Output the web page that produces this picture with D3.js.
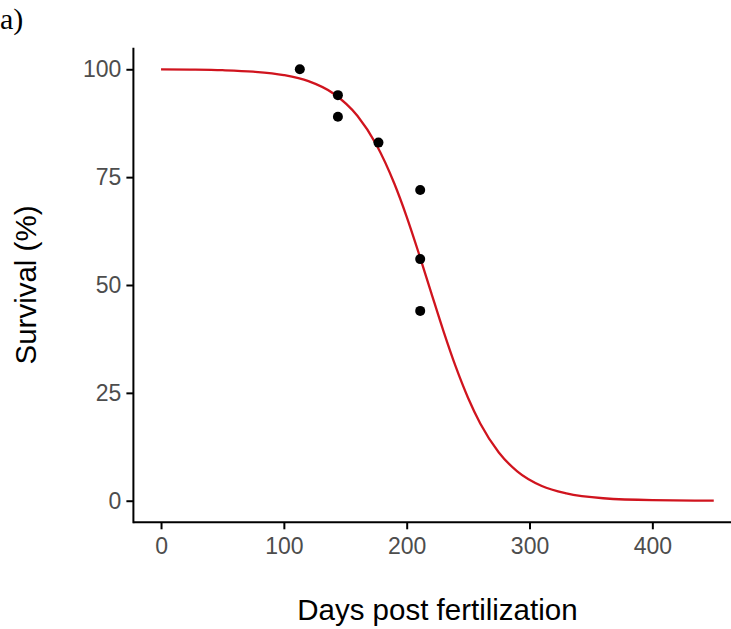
<!DOCTYPE html>
<html>
<head>
<meta charset="utf-8">
<script src="https://cdn.jsdelivr.net/npm/d3@7"></script>
<style>
  html, body { margin: 0; padding: 0; background: #ffffff; }
  svg { display: block; }
</style>
</head>
<body>
<script>
// Observed data points (days post fertilization, survival %)
const obsDays = [113, 144, 144, 177, 211, 211, 211];
const obsSurvival = [100, 94, 89, 83, 72, 56, 44];

// Fitted curve, values
const curveDays = [0, 25, 50, 75, 100, 120, 140, 160, 175, 190, 200, 210, 220, 230, 240, 250, 260, 275, 290, 310, 330, 360, 400, 450];
const curveSurvival = [99.96, 99.91, 99.78, 99.45, 98.65, 97.25, 94.45, 89.18, 82.69, 73.46, 65.81, 57.22, 48.18, 39.26, 31.0, 23.81, 17.84, 11.18, 6.80, 3.40, 1.68, 0.57, 0.13, 0.02];

const xTicks = [0, 100, 200, 300, 400];
const yTicks = [0, 25, 50, 75, 100];

const W = 731, H = 629;
const svg = d3.select("body").append("svg").attr("width", W).attr("height", H);

const x = d3.scaleLinear().domain([-22.5, 472.5]).range([133.4, 741.4]);
const y = d3.scaleLinear().domain([-5, 105]).range([522.3, 47.7]);

// panel label
svg.append("text").attr("x", 0).attr("y", 29)
  .style("font-family", "'Liberation Serif', 'Times New Roman', serif")
  .style("font-size", "30px").attr("fill", "#000").text("a)");

// curve
const line = d3.line().x(d => x(d[0])).y(d => y(d[1])).curve(d3.curveMonotoneX);
svg.append("path").datum(curveDays.map((d, i) => [d, curveSurvival[i]]))
  .attr("d", line).attr("fill", "none").attr("stroke", "#d0141e").attr("stroke-width", 2.3);

// points
svg.append("g").selectAll("circle").data(obsDays.map((d, i) => [d, obsSurvival[i]]))
  .join("circle").attr("cx", d => x(d[0])).attr("cy", d => y(d[1])).attr("r", 5).attr("fill", "#000");

// axes
const fontTick = "'Liberation Sans', Arial, sans-serif";
const xAxis = d3.axisBottom(x).tickValues(xTicks).tickSize(7).tickPadding(8).tickFormat(d3.format("d"));
const gx = svg.append("g").attr("transform", `translate(0,${y.range()[0]})`).call(xAxis);
const yAxis = d3.axisLeft(y).tickValues(yTicks).tickSize(7).tickPadding(5).tickFormat(d3.format("d"));
const gy = svg.append("g").attr("transform", `translate(${x.range()[0]},0)`).call(yAxis);

[gx, gy].forEach(g => {
  g.select(".domain").remove();
  g.selectAll(".tick line").attr("stroke", "#000").attr("stroke-width", 2);
  g.selectAll(".tick text").attr("fill", "#4d4d4d").style("font-family", fontTick).style("font-size", "23px");
});
gx.append("line").attr("x1", x.range()[0]).attr("x2", W).attr("y1", 0).attr("y2", 0)
  .attr("stroke", "#000").attr("stroke-width", 2);
gy.append("line").attr("x1", 0).attr("x2", 0).attr("y1", y.range()[1]).attr("y2", y.range()[0] + 1)
  .attr("stroke", "#000").attr("stroke-width", 2);

// axis titles
svg.append("text").attr("x", (x(0) + x(450)) / 2).attr("y", 620)
  .attr("text-anchor", "middle").style("font-family", fontTick).style("font-size", "29.5px")
  .attr("fill", "#000").text("Days post fertilization");
svg.append("text").attr("transform", `translate(36,${(y.range()[0] + y.range()[1]) / 2}) rotate(-90)`)
  .attr("text-anchor", "middle").style("font-family", fontTick).style("font-size", "29.5px")
  .attr("fill", "#000").text("Survival (%)");
</script>
</body>
</html>
